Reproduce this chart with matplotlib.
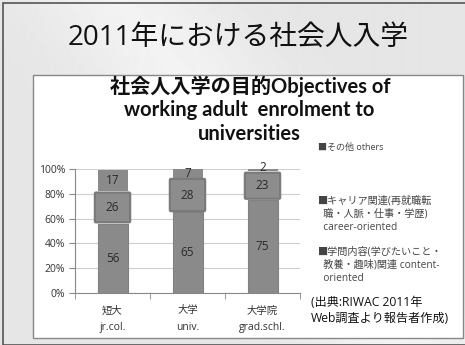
import matplotlib.pyplot as plt
from matplotlib.patches import Rectangle, FancyBboxPatch
import numpy as np

plt.rcParams['font.family'] = ['Open Sans', 'Noto Sans CJK JP', 'DejaVu Sans']

categories = ['短大\njr.col.', '大学\nuniv.', '大学院\ngrad.schl.']
content_oriented = [56, 65, 75]
career_oriented = [26, 28, 23]
others = [17, 7, 2]
yticks = [0, 20, 40, 60, 80, 100]

fig = plt.figure(figsize=(4.65, 3.45), dpi=100)
fig.patch.set_facecolor('#e4e4e4')
W, H = 465, 345

def fx(px):
    return px / W

def fy(py):
    return 1 - py / H

# slide background with a soft light streak
bg = fig.add_axes([0, 0, 1, 1], zorder=-10)
yy, xx = np.mgrid[0:H, 0:W]
shade = 0.90 + 0.05 * np.exp(-((xx - 0.8 * yy - 120) / 90.0) ** 2)
bg.imshow(shade, cmap='gray', vmin=0, vmax=1, aspect='auto', extent=[0, 1, 0, 1])
bg.set_axis_off()
bg.add_patch(Rectangle((fx(3), 0), 1, fy(3), fill=False, edgecolor='#555555', lw=1.2))

fig.text(fx(238), fy(38), '2011年における社会人入学', ha='center', va='center',
         fontsize=20, color='#111111')

# white chart panel
fig.patches.append(Rectangle((fx(33), fy(338)), fx(463) - fx(33), fy(75) - fy(338),
                             transform=fig.transFigure, facecolor='white',
                             edgecolor='#888888', lw=1, zorder=-1))

title_font = ['Lato', 'Noto Sans CJK JP']
title_kw = dict(ha='center', va='center', fontsize=14.5, fontweight='bold',
                family=title_font, color='#111111')
fig.text(fx(250), fy(86), '社会人入学の目的Objectives of', **title_kw)
fig.text(fx(249), fy(110), 'working adult  enrolment to', **title_kw)
fig.text(fx(249), fy(134), 'universities', **title_kw)

ax = fig.add_axes([fx(75), fy(293), fx(300) - fx(75), fy(169) - fy(293)])
ax.set_facecolor('none')
x = np.arange(len(categories))
bar_c = '#8a8a8a'
w = 0.4

ax.bar(x, content_oriented, w, color=bar_c, edgecolor='#818181', lw=0.8, zorder=2)
ax.bar(x, others, w, bottom=np.array(content_oriented) + np.array(career_oriented),
       color=bar_c, zorder=2)
for i in x:
    b = content_oriented[i]
    h = career_oriented[i]
    ax.add_patch(FancyBboxPatch((i - 0.235, b + 1.0), 0.47, h - 2,
                                boxstyle='round,pad=0,rounding_size=0.015',
                                mutation_aspect=60, facecolor='#8d8d8d',
                                edgecolor='#7a7a7a', lw=1.6, zorder=3))
    ax.text(i, b / 2, str(b), ha='center', va='center', fontsize=8.5, color='#2a2a2a', zorder=4)
    ax.text(i, b + h / 2, str(h), ha='center', va='center', fontsize=8.5, color='#2a2a2a', zorder=4)
    top = b + h + others[i] / 2
    if others[i] < 5:
        top = 101
    ax.text(i, top, str(others[i]), ha='center', va='center', fontsize=8.5,
            color='#2a2a2a', zorder=4)

ax.set_xlim(-0.5, 2.5)
ax.set_ylim(0, 100)
ax.set_yticks(yticks)
ax.set_yticklabels([f'{t}%' for t in yticks], fontsize=7.5, color='#333333')
ax.set_xticks(x)
ax.set_xticklabels(categories, fontsize=7.5, color='#333333', linespacing=1.65)
ax.set_xticks([-0.5, 0.5, 1.5, 2.5], minor=True)
ax.tick_params(axis='x', which='major', length=0, pad=9)
ax.tick_params(axis='x', which='minor', length=4, color='#888888')
ax.tick_params(axis='y', length=4, color='#888888', pad=3)
ax.grid(axis='y', color='#cfcfcf', lw=0.8, zorder=0)
for s in ['top', 'right']:
    ax.spines[s].set_visible(False)
ax.spines['left'].set_color('#888888')
ax.spines['bottom'].set_color('#888888')

legend_c = '#444444'
fig.text(fx(318), fy(147), '■その他 others', ha='left', va='center', fontsize=6.5, color=legend_c)
fig.text(fx(318), fy(214), '■キャリア関連(再就職転\n  職・人脈・仕事・学歴)\n  career-oriented',
         ha='left', va='center', fontsize=7.3, color=legend_c, linespacing=1.3)
fig.text(fx(318), fy(265), '■学問内容(学びたいこと・\n  教養・趣味)関連 content-\n  oriented',
         ha='left', va='center', fontsize=7.3, color=legend_c, linespacing=1.3)
fig.text(fx(311), fy(310), '(出典:RIWAC 2011年\nWeb調査より報告者作成)',
         ha='left', va='center', fontsize=8.7, color='#111111', linespacing=1.3)

fig.savefig('out.png', dpi=100, facecolor=fig.get_facecolor())
